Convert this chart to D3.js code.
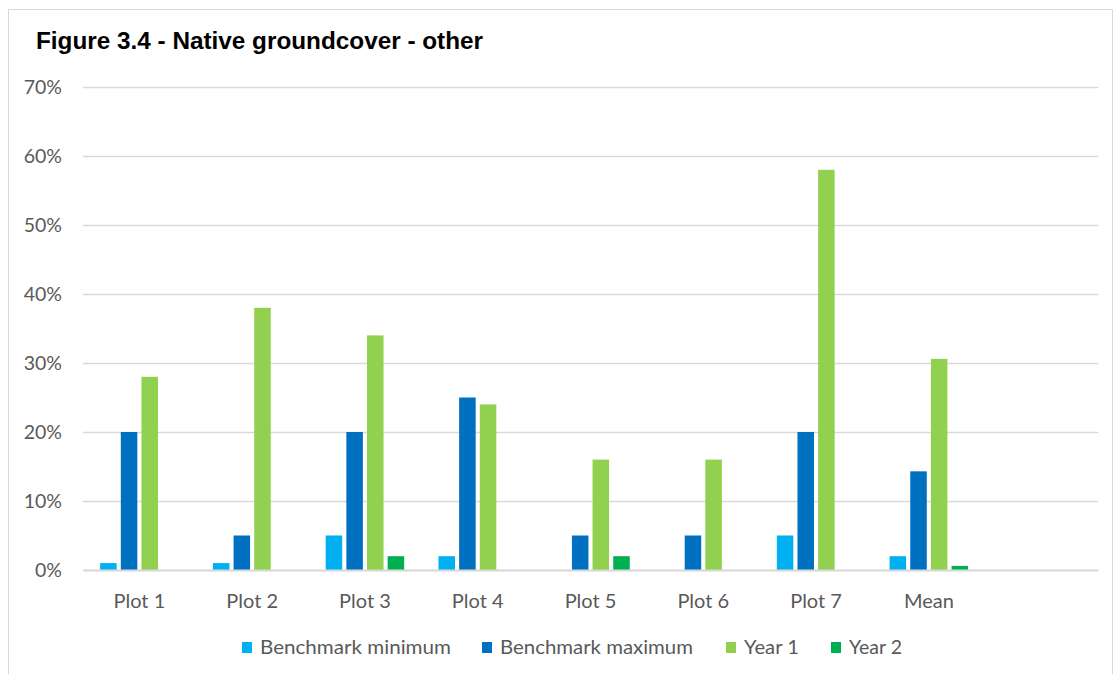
<!DOCTYPE html>
<html lang="en">
<head>
    <meta charset="UTF-8">
    <title>Figure 3.4 - Native groundcover - other</title>
    <script src="https://d3js.org/d3.v7.min.js"></script>
    <style>
        body { margin: 0; padding: 0; background: #fff; }
        svg { display: block; }
    </style>
</head>
<body>
    <svg id="chart"></svg>
    <script>
        const width = 1116, height = 674;

        // chart values (percent)
        const categories = ["Plot 1", "Plot 2", "Plot 3", "Plot 4", "Plot 5", "Plot 6", "Plot 7", "Mean", ""];
        const benchMin = [1, 1, 5, 2, 0, 0, 5, 2];
        const benchMax = [20, 5, 20, 25, 5, 5, 20, 14.3];
        const year1 = [28, 38, 34, 24, 16, 16, 58, 30.6];
        const year2 = [0, 0, 2, 0, 2, 0, 0, 0.6];
        const yTicks = [0, 10, 20, 30, 40, 50, 60, 70];

        const series = [
            { name: "Benchmark minimum", values: benchMin, col: "#00B0F0" },
            { name: "Benchmark maximum", values: benchMax, col: "#0070C0" },
            { name: "Year 1", values: year1, col: "#92D050" },
            { name: "Year 2", values: year2, col: "#00B050" }
        ];

        const margin = { top: 87, right: 18, bottom: 104, left: 83 };
        const labelFont = "Lato, 'Open Sans', sans-serif";

        const svg = d3.select("#chart")
            .attr("width", width)
            .attr("height", height);

        // outer frame
        svg.append("rect")
            .attr("x", 8.5).attr("y", 9.5)
            .attr("width", width - 12).attr("height", height)
            .attr("fill", "#fff")
            .attr("stroke", "#d9d9d9");

        svg.append("text")
            .attr("x", 36).attr("y", 49)
            .attr("textLength", 447)
            .attr("lengthAdjust", "spacingAndGlyphs")
            .style("font-family", "'Liberation Sans', Arial, sans-serif")
            .style("font-weight", "bold")
            .style("font-size", "24px")
            .attr("fill", "#000")
            .text("Figure 3.4 - Native groundcover - other");

        const x = d3.scaleBand()
            .domain(categories.map((c, i) => i))
            .range([margin.left, width - margin.right])
            .paddingInner(0)
            .paddingOuter(0);

        const x1 = d3.scaleBand()
            .domain(series.map(s => s.name))
            .range([0, x.bandwidth()])
            .paddingInner(0.2)
            .paddingOuter(0.83);

        const y = d3.scaleLinear()
            .domain([0, 70])
            .range([height - margin.bottom, margin.top]);

        // gridlines + y labels
        const yAxis = svg.append("g")
            .attr("transform", `translate(${margin.left},0)`)
            .call(d3.axisLeft(y).tickValues(yTicks).tickSize(-(width - margin.left - margin.right)).tickPadding(21).tickFormat(d => d + "%"));
        yAxis.select(".domain").remove();
        yAxis.selectAll(".tick line").attr("stroke", "#d9d9d9").attr("stroke-width", 1.3);
        yAxis.selectAll(".tick text")
            .style("font-family", labelFont)
            .style("font-size", "19.5px")
            .attr("fill", "#595959");

        // bars
        series.forEach(s => {
            svg.append("g").selectAll("rect")
                .data(s.values)
                .enter().append("rect")
                .attr("x", (d, i) => x(i) + x1(s.name))
                .attr("y", d => y(d))
                .attr("width", x1.bandwidth())
                .attr("height", d => y(0) - y(d))
                .attr("fill", s.col);
        });

        // x baseline and labels
        const xAxis = svg.append("g")
            .attr("transform", `translate(0,${y(0)})`)
            .call(d3.axisBottom(x).tickSize(0).tickPadding(24).tickFormat(i => categories[i]));
        xAxis.select(".domain").attr("stroke", "#d9d9d9").attr("stroke-width", 2);
        xAxis.selectAll(".tick text")
            .style("font-family", labelFont)
            .style("font-size", "20px")
            .attr("fill", "#595959");

        // legend
        const legendX = [242, 482, 726, 831];
        const legendW = [191, 193, 55, 53];
        const legend = svg.append("g");
        series.forEach((s, i) => {
            legend.append("rect")
                .attr("x", legendX[i]).attr("y", 642)
                .attr("width", 10).attr("height", 11)
                .attr("fill", s.col);
            legend.append("text")
                .attr("x", legendX[i] + 18).attr("y", 654)
                .attr("textLength", legendW[i])
                .attr("lengthAdjust", "spacingAndGlyphs")
                .style("font-family", labelFont)
                .style("font-size", "19px")
                .attr("fill", "#595959")
                .text(s.name);
        });
    </script>
</body>
</html>
